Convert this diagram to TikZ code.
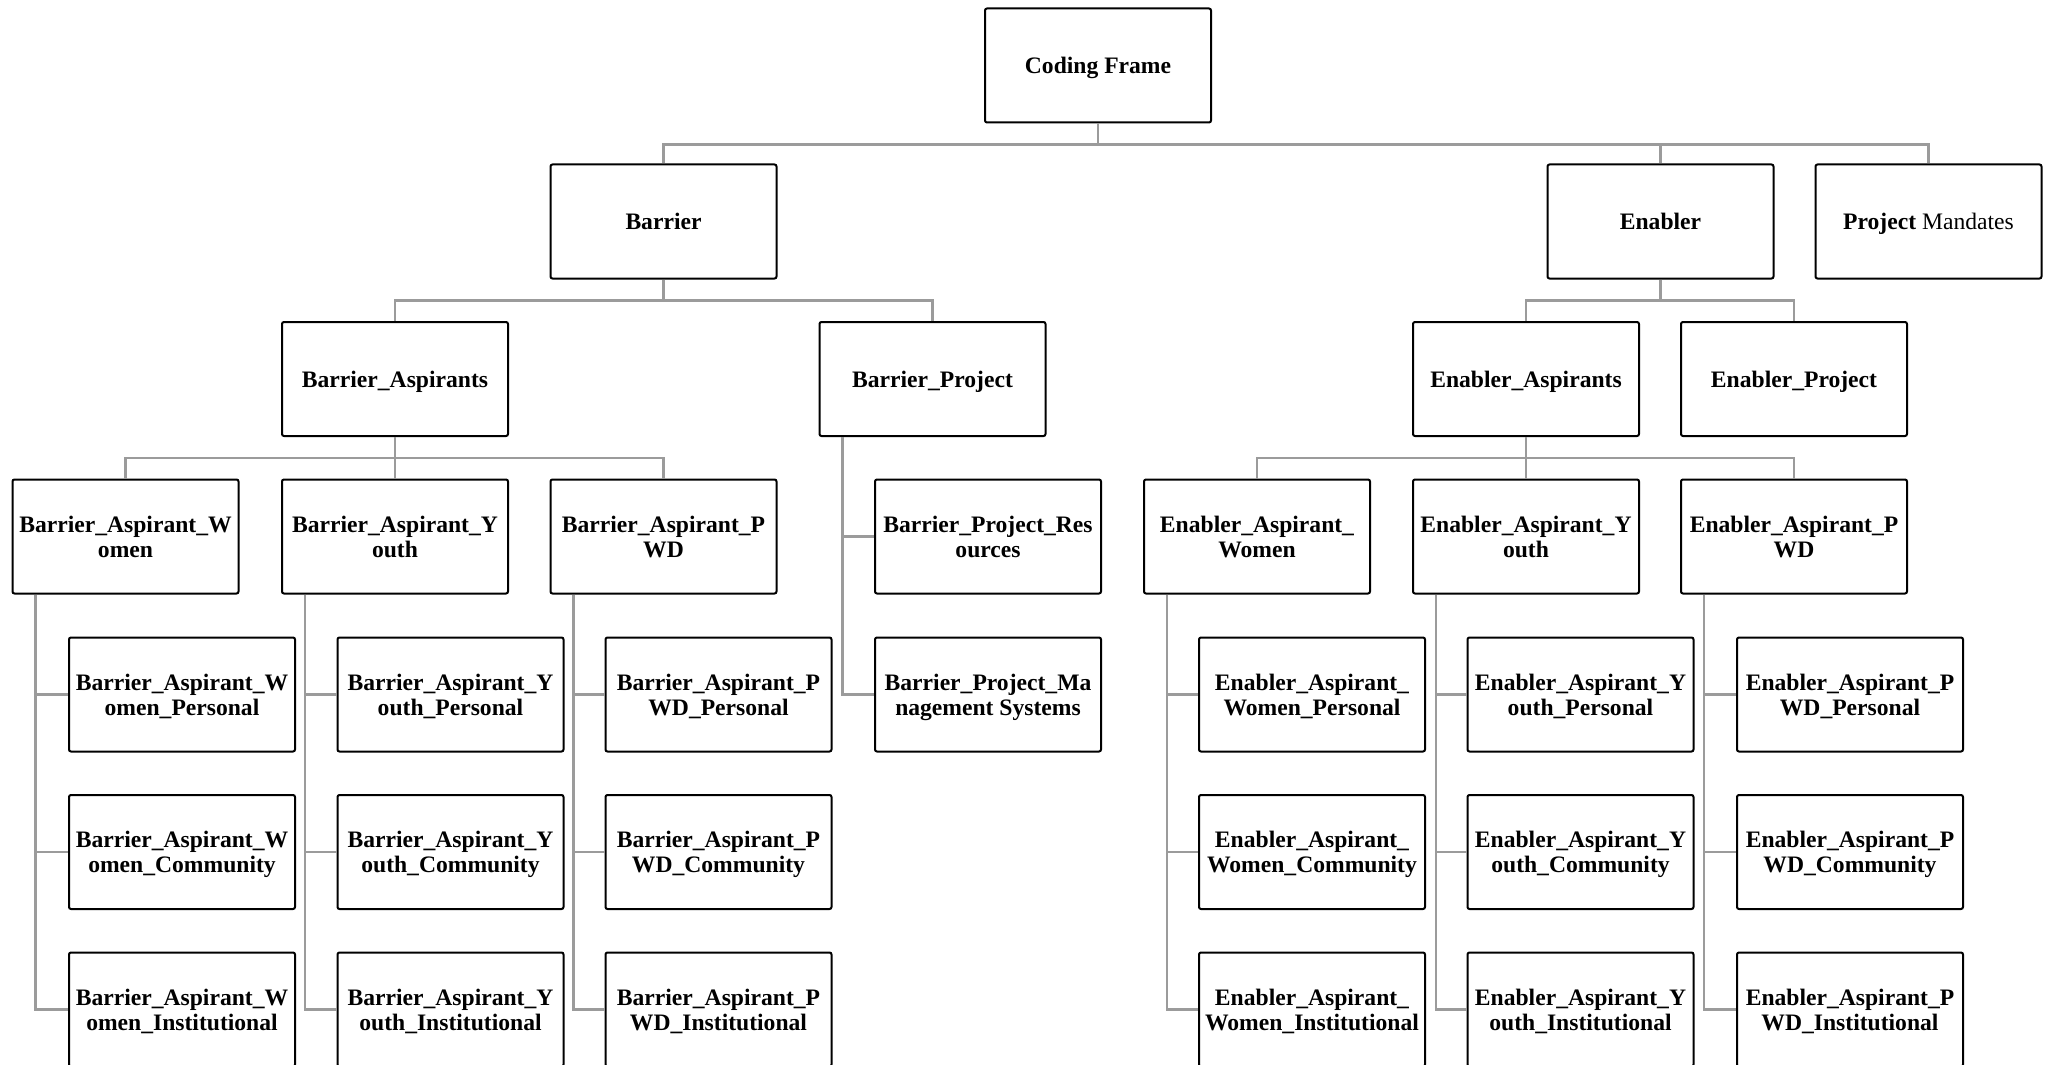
\documentclass[tikz,border=0pt]{standalone}
\usepackage{fontspec}
\setmainfont{Liberation Serif}
\definecolor{conngray}{RGB}{155,155,155}
\begin{document}
\begin{tikzpicture}[x=0.5pt,y=-0.5pt,
  box/.style={draw=black,line width=1pt,rounded corners=1pt,fill=white,
    minimum width=113pt,minimum height=57pt,inner sep=0pt,align=center,text depth=0pt,
    font=\fontsize{11.8pt}{12.5pt}\selectfont\bfseries},
  conn/.style={draw=conngray,line width=1.3pt}]
\useasboundingbox (0,0) rectangle (2053,1065);
% level 1
\node[box] (cf) at (1098,65.5) {Coding Frame};
% level 2
\node[box] (bar) at (663.5,221.5) {Barrier};
\node[box] (ena) at (1660.5,221.5) {Enabler};
\node[box] (pm) at (1928.5,221.5) {Project \mdseries Mandates};
% level 3
\node[box] (ba) at (395,379) {Barrier\_Aspirants};
\node[box] (bp) at (932.5,379) {Barrier\_Project};
\node[box] (ea) at (1526,379) {Enabler\_Aspirants};
\node[box] (ep) at (1794,379) {Enabler\_Project};
% level 4
\node[box] (baw) at (125.5,536.5) {Barrier\_Aspirant\_W\\omen};
\node[box] (bay) at (395,536.5) {Barrier\_Aspirant\_Y\\outh};
\node[box] (bad) at (663.5,536.5) {Barrier\_Aspirant\_P\\WD};
\node[box] (bpr) at (988,536.5) {Barrier\_Project\_Res\\ources};
\node[box] (eaw) at (1257,536.5) {Enabler\_Aspirant\_\\Women};
\node[box] (eay) at (1526,536.5) {Enabler\_Aspirant\_Y\\outh};
\node[box] (ead) at (1794,536.5) {Enabler\_Aspirant\_P\\WD};
% level 5
\node[box] (bawp) at (182,694.5) {Barrier\_Aspirant\_W\\omen\_Personal};
\node[box] (bayp) at (450.5,694.5) {Barrier\_Aspirant\_Y\\outh\_Personal};
\node[box] (badp) at (718.5,694.5) {Barrier\_Aspirant\_P\\WD\_Personal};
\node[box] (bpm) at (988,694.5) {Barrier\_Project\_Ma\\nagement Systems};
\node[box] (eawp) at (1312,694.5) {Enabler\_Aspirant\_\\Women\_Personal};
\node[box] (eayp) at (1580.5,694.5) {Enabler\_Aspirant\_Y\\outh\_Personal};
\node[box] (eadp) at (1850,694.5) {Enabler\_Aspirant\_P\\WD\_Personal};
% level 6
\node[box] (bawc) at (182,852) {Barrier\_Aspirant\_W\\omen\_Community};
\node[box] (bayc) at (450.5,852) {Barrier\_Aspirant\_Y\\outh\_Community};
\node[box] (badc) at (718.5,852) {Barrier\_Aspirant\_P\\WD\_Community};
\node[box] (eawc) at (1312,852) {Enabler\_Aspirant\_\\Women\_Community};
\node[box] (eayc) at (1580.5,852) {Enabler\_Aspirant\_Y\\outh\_Community};
\node[box] (eadc) at (1850,852) {Enabler\_Aspirant\_P\\WD\_Community};
% level 7
\node[box] (bawi) at (182,1009.5) {Barrier\_Aspirant\_W\\omen\_Institutional};
\node[box] (bayi) at (450.5,1009.5) {Barrier\_Aspirant\_Y\\outh\_Institutional};
\node[box] (badi) at (718.5,1009.5) {Barrier\_Aspirant\_P\\WD\_Institutional};
\node[box] (eawi) at (1312,1009.5) {Enabler\_Aspirant\_\\Women\_Institutional};
\node[box] (eayi) at (1580.5,1009.5) {Enabler\_Aspirant\_Y\\outh\_Institutional};
\node[box] (eadi) at (1850,1009.5) {Enabler\_Aspirant\_P\\WD\_Institutional};

% coding frame bar
\draw[conn] (cf.south) -- ++(0,21) coordinate (y1);
\draw[conn] (bar.north) -- (bar.north |- y1) -- (pm.north |- y1) -- (pm.north);
\draw[conn] (ena.north) -- (ena.north |- y1);
% barrier bar
\draw[conn] (bar.south) -- ++(0,21) coordinate (y2);
\draw[conn] (ba.north) -- (ba.north |- y2) -- (bp.north |- y2) -- (bp.north);
% enabler bar
\draw[conn] (ena.south) -- ++(0,21) coordinate (y3);
\draw[conn] (ea.north) -- (ea.north |- y3) -- (ep.north |- y3) -- (ep.north);
% barrier aspirants bar
\draw[conn] (ba.south) -- ++(0,21) coordinate (y4);
\draw[conn] (baw.north) -- (baw.north |- y4) -- (bad.north |- y4) -- (bad.north);
\draw[conn] (bay.north) -- (bay.north |- y4);
% enabler aspirants bar
\draw[conn] (ea.south) -- ++(0,21) coordinate (y5);
\draw[conn] (eaw.north) -- (eaw.north |- y5) -- (ead.north |- y5) -- (ead.north);
\draw[conn] (eay.north) -- (eay.north |- y5);
% side connectors
\draw[conn] ([xshift=12pt]bp.south west) |- (bpm.west);
\draw[conn] ([xshift=12pt]bp.south west |- bpr.west) -- (bpr.west);
\foreach \p/\a/\b/\c in {baw/bawp/bawc/bawi,bay/bayp/bayc/bayi,bad/badp/badc/badi,
                          eaw/eawp/eawc/eawi,eay/eayp/eayc/eayi,ead/eadp/eadc/eadi}{
  \draw[conn] ([xshift=12pt]\p.south west) |- (\c.west);
  \draw[conn] ([xshift=12pt]\p.south west |- \a.west) -- (\a.west);
  \draw[conn] ([xshift=12pt]\p.south west |- \b.west) -- (\b.west);
}
\end{tikzpicture}
\end{document}
